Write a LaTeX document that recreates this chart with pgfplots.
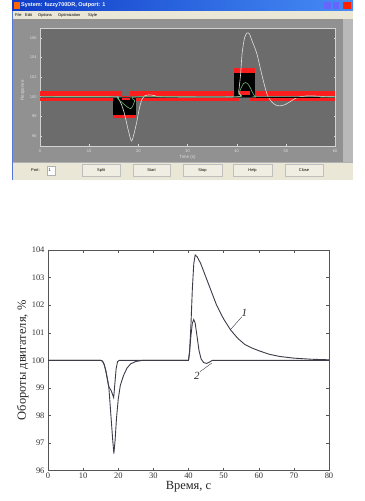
\documentclass[border=0pt]{standalone}
\usepackage{fontspec}
\setmainfont{Liberation Serif}
\newfontfamily\uifont{Liberation Sans}
\usepackage{pgfplots}
\pgfplotsset{compat=1.18}
\definecolor{xpblue}{RGB}{15,60,200}
\definecolor{xpblue2}{RGB}{70,140,245}
\definecolor{xpbeige}{RGB}{234,231,214}
\definecolor{panelgray}{RGB}{145,145,145}
\definecolor{plotgray}{RGB}{108,108,108}
\definecolor{ncdred}{RGB}{250,30,30}
\definecolor{ncdgreen}{RGB}{110,185,120}
\definecolor{ncdwhite}{RGB}{225,225,225}
\definecolor{curvecol}{RGB}{62,58,72}
\definecolor{framecol}{RGB}{85,85,85}
\begin{document}
\begin{tikzpicture}[x=1bp,y=1bp]
\useasboundingbox (0,0) rectangle (364,501);
\fill[white] (0,0) rectangle (364,501);
% ---- window chrome ----
\fill[panelgray] (12,321) rectangle (353,501);
\fill[gray!55] (343,323) rectangle (353,490);
\shade[left color=xpblue, right color=xpblue2] (12,490) rectangle (353,501);
\fill[orange!80!red] (13.5,492) rectangle (19.5,499);
\node[anchor=west, text=white, inner sep=0pt, font=\uifont\bfseries\fontsize{5.5}{6}\selectfont] at (21,495.5) {System: fuzzy700DR, Outport: 1};
\fill[blue!60!white] (324,491.5) rectangle (330.5,498.5);
\fill[blue!60!white] (332.5,491.5) rectangle (339,498.5);
\fill[red!75!orange] (343,491.5) rectangle (351,498.5);
\fill[xpbeige] (12,481.5) rectangle (353,490);
\begin{scope}[every node/.style={anchor=west, inner sep=0pt, font=\uifont\fontsize{4}{4}\selectfont}]
\node at (15,485.7) {File};
\node at (25,485.7) {Edit};
\node at (38,485.7) {Options};
\node at (58,485.7) {Optimization};
\node at (88,485.7) {Style};
\end{scope}
\fill[xpbeige] (12,321) rectangle (353,339);
\draw[gray!60, line width=0.4pt] (12,339) -- (353,339);
\begin{scope}[every node/.style={inner sep=0pt, font=\uifont\fontsize{4}{4}\selectfont}]
\node[anchor=west] at (31,330.5) {Port:};
\fill[white] (47,326) rectangle (55,335);
\draw[gray!60, line width=0.3pt] (47,326) rectangle (55,335);
\node[anchor=west] at (48.5,330.5) {1};
\foreach \a/\b/\t in {82/120/Split,133/170/Start,183/222/Stop,233/272/Help,285/323/Close}{
  \fill[xpbeige!70!white] (\a,324.5) rectangle (\b,337);
  \draw[gray!50, line width=0.3pt] (\a,324.5) rectangle (\b,337);
  \node at ({(\a+\b)/2},330.5) {\t};
}
\end{scope}
\draw[xpblue!70, line width=0.8pt] (12.4,321) -- (12.4,490);
% ---- NCD response plot ----
\begin{axis}[
  scale only axis, width=295bp, height=118bp,
  at={(40bp,355bp)}, anchor=south west,
  xmin=0, xmax=60, ymin=95, ymax=107,
  axis background/.style={fill=plotgray},
  axis line style={draw=gray!35, line width=0.4pt},
  xtick={0,10,...,60}, ytick={96,98,...,106},
  tick align=inside, major tick length=1.5bp,
  tick style={draw=gray!30, line width=0.3pt},
  tick label style={font=\uifont\fontsize{4}{4}\selectfont, text=gray!25},
  /pgf/number format/assume math mode=true,
  xlabel={Time (s)}, ylabel={Response},
  every axis x label/.style={at={(axis description cs:0.5,-0.10)}, anchor=center, font=\uifont\fontsize{4.5}{5}\selectfont, text=gray!25},
  every axis y label/.style={at={(axis description cs:-0.058,0.47)}, rotate=90, anchor=center, font=\uifont\fontsize{4.5}{5}\selectfont, text=gray!25},
]
% black regions
\addplot[fill=black, draw=none] coordinates {(14.9,98.2) (19.6,98.2) (19.6,99.95) (14.9,99.95)} -- cycle;
\addplot[fill=black, draw=none] coordinates {(39.5,99.9) (43.8,99.9) (43.8,102.42) (39.5,102.42)} -- cycle;
% upper bound bands
\addplot[fill=ncdred, draw=none] coordinates {(0,100.12) (16.6,100.12) (16.6,100.55) (0,100.55)} -- cycle;
\addplot[fill=ncdred, draw=none] coordinates {(16.6,99.7) (18.3,99.7) (18.3,100.1) (16.6,100.1)} -- cycle;
\addplot[fill=ncdred, draw=none] coordinates {(18.3,100.12) (39.5,100.12) (39.5,100.55) (18.3,100.55)} -- cycle;
\addplot[fill=ncdred, draw=none] coordinates {(39.5,102.42) (43.8,102.42) (43.8,102.9) (39.5,102.9)} -- cycle;
\addplot[fill=ncdred, draw=none] coordinates {(43.8,100.12) (60,100.12) (60,100.55) (43.8,100.55)} -- cycle;
% lower bound bands
\addplot[fill=ncdred, draw=none] coordinates {(0,99.53) (14.9,99.53) (14.9,99.93) (0,99.93)} -- cycle;
\addplot[fill=ncdred, draw=none] coordinates {(14.9,97.85) (19.6,97.85) (19.6,98.2) (14.9,98.2)} -- cycle;
\addplot[fill=ncdred, draw=none] coordinates {(19.6,99.53) (40.4,99.53) (40.4,99.93) (19.6,99.93)} -- cycle;
\addplot[fill=ncdred, draw=none] coordinates {(40.4,100.2) (42.7,100.2) (42.7,100.6) (40.4,100.6)} -- cycle;
\addplot[fill=ncdred, draw=none] coordinates {(42.7,99.53) (60,99.53) (60,99.93) (42.7,99.93)} -- cycle;
% reference line
\addplot[black!80, line width=0.35bp] coordinates {(0,100) (60,100)};
% initial response (white)
\addplot[ncdwhite, line width=0.6bp, smooth, tension=0.4] coordinates {
(0,100) (15,100) (15.8,99.9) (16.5,99.3) (17,98.6) (17.5,97.6) (18,96.5) (18.6,95.5)
(19.1,96.2) (19.7,97.5) (20.2,98.8) (20.7,99.7) (21.3,100.1) (22.3,100.2) (23.5,100.1) (25,100)
(40,100) (40.4,100.5) (40.8,102.3) (41.1,104.4) (41.6,106) (42.1,106.5) (42.6,106.4) (43.2,105.6)
(44.1,104.4) (45,102.5) (45.8,100.9) (46.4,100) (47.2,99.45) (48,99.15) (48.8,99.08) (49.8,99.2)
(51,99.55) (52,99.85) (52.9,100) (54.5,100.1) (56,100.08) (58,100.02) (60,100)};
% optimized response (green)
\addplot[ncdgreen, line width=0.6bp, smooth, tension=0.4] coordinates {
(0,100) (15,100) (15.8,99.8) (16.5,99.5) (17.2,99.2) (17.8,98.95) (18.4,98.8) (18.8,99.0)
(19.3,99.6) (19.8,100) (40,100) (40.4,100.3) (40.9,100.9) (41.4,101.35) (41.8,101.45)
(42.3,101.3) (42.8,100.9) (43.3,100.35) (43.8,100.05) (44.5,100) (60,100)};
\addplot[black, line width=0.5bp] coordinates {(43.9,100) (57,100)};
\end{axis}
% ---- main chart ----
\begin{axis}[
  scale only axis, width=281bp, height=220.7bp,
  at={(48bp,30.3bp)}, anchor=south west,
  xmin=0, xmax=80, ymin=96, ymax=104,
  xtick={0,10,...,80}, ytick={96,97,...,104},
  axis line style={draw=framecol, line width=0.7pt},
  tick align=inside, major tick length=3bp,
  tick style={draw=framecol, line width=0.5pt},
  tick label style={font=\fontsize{8.5}{9}\selectfont, text=black!80},
  xticklabel style={yshift=1bp},
  /pgf/number format/assume math mode=true,
  xlabel={Время, с}, ylabel={Обороты двигателя, \%},
  every axis x label/.style={at={(axis description cs:0.5,-0.073)}, anchor=center, font=\fontsize{12.5}{14}\selectfont, text=black!85},
  every axis y label/.style={at={(axis description cs:-0.09,0.5)}, rotate=90, anchor=center, font=\fontsize{12.5}{14}\selectfont, text=black!85},
]
% curve 1
\addplot[curvecol, line width=0.9pt] coordinates {
(0,100) (15,100) (15.5,99.97) (16,99.85) (16.5,99.6) (17,99.25) (17.3,99.05) (17.6,98.55)
(18.0,97.85) (18.4,97.15) (18.75,96.62) (19.1,97.1) (19.5,97.9) (20,98.6) (20.6,99.1)
(21.5,99.45) (22.5,99.72) (23.5,99.87) (25,99.96) (27,100) (40,100) (40.3,100.3)
(40.7,101.3) (41.1,102.6) (41.5,103.5) (41.9,103.82) (42.5,103.75) (43.5,103.5) (45,103.0)
(46.5,102.5) (48,102.0) (50,101.5) (52,101.1) (54,100.8) (56,100.58) (58,100.45) (60,100.35)
(63,100.22) (66,100.14) (70,100.08) (75,100.04) (80,100.02)};
% curve 2
\addplot[curvecol, line width=0.9pt] coordinates {
(0,100) (15,100) (15.5,99.97) (16,99.85) (16.5,99.6) (17,99.25) (17.3,99.05) (18,98.9)
(18.5,98.72) (18.7,98.65) (19.0,99.1) (19.4,99.7) (19.8,99.95) (20.3,100) (40,100)
(40.3,100.3) (40.7,100.9) (41.1,101.35) (41.5,101.48) (41.9,101.35) (42.4,100.9) (43,100.35)
(43.6,100.05) (44.3,99.92) (45.2,99.89) (46,99.94) (46.8,100) (80,100)};
\draw[curvecol, line width=0.4pt] (axis cs:51.85,101.1) -- (axis cs:55.2,101.58);
\node[font=\itshape\fontsize{11}{12}\selectfont, text=black!85] at (axis cs:55.9,101.72) {1};
\draw[curvecol, line width=0.4pt] (axis cs:43.3,99.59) -- (axis cs:46.6,99.9);
\node[font=\itshape\fontsize{11}{12}\selectfont, text=black!85] at (axis cs:42.4,99.45) {2};
\end{axis}
\end{tikzpicture}
\end{document}
